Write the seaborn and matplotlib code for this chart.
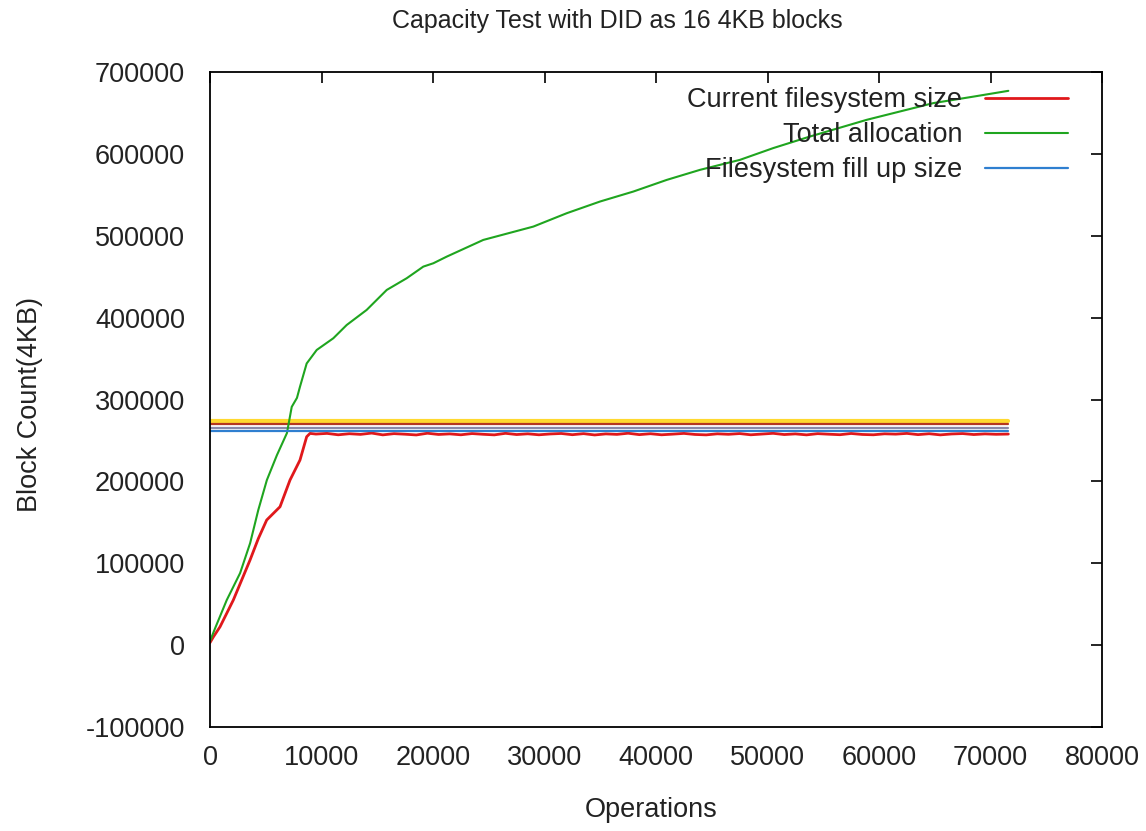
import numpy as np
import pandas as pd
import seaborn as sns
import matplotlib
matplotlib.use("Agg")
import matplotlib.pyplot as plt

# ---------------- data ----------------
title = "Capacity Test with DID as 16 4KB blocks"
xlabel = "Operations"
ylabel = "Block Count(4KB)"

green_x = [0, 500, 1500, 2700, 3600, 4330, 5100, 6000, 6900, 7330, 7800, 8070, 8670,
           9570, 11060, 12260, 14050, 15850, 17640, 19130, 20030, 21230, 24510,
           29000, 31990, 34980, 37970, 40960, 43950, 47530, 50500, 53810, 58900,
           64870, 68500, 71600]
green_y = [5000, 22000, 55000, 88000, 124600, 165000, 201600, 232000, 259000, 291000,
           302000, 315600, 344000, 360500, 374800, 391000, 409400, 433800, 448100,
           462300, 466400, 474500, 494900, 511200, 527500, 541800, 554000, 568200,
           580500, 592700, 607000, 621200, 641600, 662000, 670000, 677000]

red_ramp_x = [0, 300, 900, 2090, 3590, 4330, 5085, 6280, 7175, 8070, 8670, 8970]
red_ramp_y = [3000, 10000, 22400, 55000, 103900, 130000, 152800, 169000, 201600,
              226000, 254500, 258600]
red_flat_x = [9500, 10500, 11500, 12500, 13500, 14500, 15500, 16500, 17500, 18500,
              19500, 20500, 21500, 22500, 23500, 24500, 25500, 26500, 27500, 28500,
              29500, 30500, 31500, 32500, 33500, 34500, 35500, 36500, 37500, 38500,
              39500, 40500, 41500, 42500, 43500, 44500, 45500, 46500, 47500, 48500,
              49500, 50500, 51500, 52500, 53500, 54500, 55500, 56500, 57500, 58500,
              59500, 60500, 61500, 62500, 63500, 64500, 65500, 66500, 67500, 68500,
              69500, 70500, 71600]
red_flat_y = [257800, 258600, 256900, 258200, 257400, 259000, 256800, 258300, 257600,
              256700, 258800, 257300, 258000, 256900, 258400, 257500, 256800, 258700,
              257200, 258100, 256900, 257900, 258500, 257000, 258300, 256700, 258000,
              257400, 258800, 257100, 258200, 256900, 257700, 258600, 257300, 256800,
              258100, 257500, 258400, 256900, 257800, 258700, 257200, 258000, 256800,
              258300, 257600, 257000, 258500, 257300, 256900, 258100, 257700, 258600,
              257100, 258200, 256800, 257900, 258400, 257200, 258000, 257500, 257800]

fill_up_size = 261000
other_levels = [273500, 270500, 265000]
line_end_x = 71600

x_ticks = [0, 10000, 20000, 30000, 40000, 50000, 60000, 70000, 80000]
y_ticks = [-100000, 0, 100000, 200000, 300000, 400000, 500000, 600000, 700000]

# ---------------- style ----------------
sns.set_theme(style="white")
plt.rcParams['font.family'] = ['Liberation Sans', 'DejaVu Sans']
plt.rcParams['xtick.direction'] = 'in'
plt.rcParams['ytick.direction'] = 'in'

W, H = 1146, 831
fig = plt.figure(figsize=(W / 100, H / 100), dpi=100)
ax = fig.add_axes([210 / W, 1 - 727 / H, (1102 - 210) / W, (727 - 72) / H])

red_df = pd.DataFrame({"x": red_ramp_x + red_flat_x, "y": red_ramp_y + red_flat_y})
green_df = pd.DataFrame({"x": green_x, "y": green_y})

# unlabeled reference levels
other_colors = ["#ffd92f", "#b5371f", "#8a8aa8"]
other_widths = [3.0, 1.6, 1.6]
for lvl, c, w in zip(other_levels, other_colors, other_widths):
    sns.lineplot(x=[0, line_end_x], y=[lvl, lvl], ax=ax, color=c, lw=w,
                 estimator=None, sort=False, legend=False)

sns.lineplot(data=red_df, x="x", y="y", ax=ax, color="#e0181b", lw=2.0,
             estimator=None, sort=False, label="Current filesystem size")
sns.lineplot(data=green_df, x="x", y="y", ax=ax, color="#1fa51f", lw=1.5,
             estimator=None, sort=False, label="Total allocation")
sns.lineplot(x=[0, line_end_x], y=[fill_up_size, fill_up_size], ax=ax,
             color="#2f7fd0", lw=1.6, estimator=None, sort=False,
             label="Filesystem fill up size")

txt = '#222222'
fs = 19.5
ax.set_xlim(0, 80000)
ax.set_ylim(-100000, 700000)
ax.set_xticks(x_ticks)
ax.set_yticks(y_ticks)
ax.set_xticklabels([str(v) for v in x_ticks])
ax.set_yticklabels([str(v) for v in y_ticks])
ax.tick_params(axis='both', which='major', length=8, width=1.2, color='black',
               labelsize=fs, labelcolor=txt, top=True, right=True)
ax.tick_params(axis='x', pad=13)
ax.tick_params(axis='y', pad=18)
for s in ax.spines.values():
    s.set_visible(True)
    s.set_color('black')
    s.set_linewidth(1.3)

ax.set_xlabel("")
ax.set_ylabel("")
fig.text(651 / W, 1 - 810 / H, xlabel, fontsize=fs, color=txt, ha='center', va='center')
fig.text(30 / W, 1 - 405 / H, ylabel, fontsize=fs, color=txt, ha='center', va='center',
         rotation=90)
fig.text(617 / W, 1 - 21 / H, title, fontsize=18, color=txt, ha='center', va='center')

leg = ax.legend(loc='upper right', bbox_to_anchor=((1068 - 210) / 892, (727 - 87) / 655),
                frameon=False, markerfirst=False, fontsize=fs, handlelength=3.06,
                handletextpad=0.85, labelspacing=0.34, borderpad=0, borderaxespad=0)
for t in leg.get_texts():
    t.set_color(txt)

fig.savefig("out.png", dpi=100)
